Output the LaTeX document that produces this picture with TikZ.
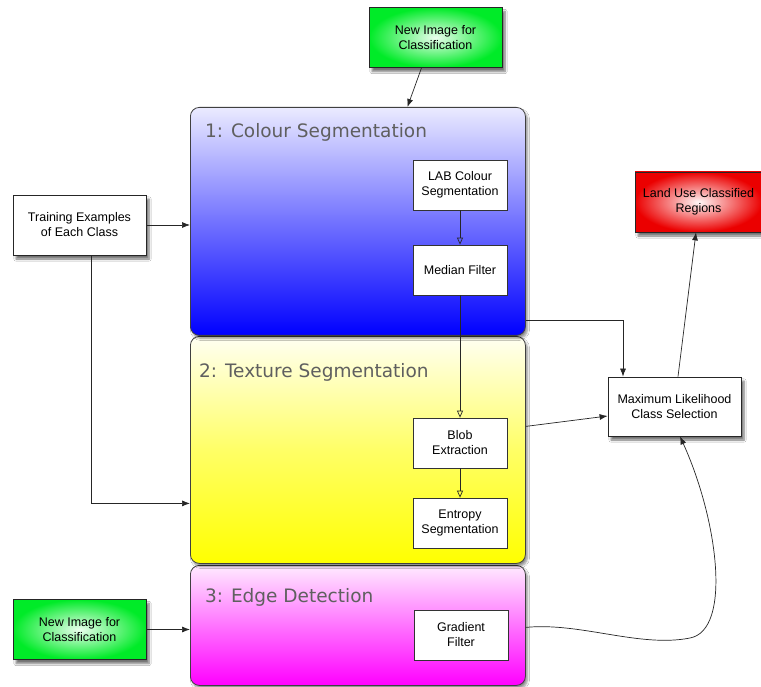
\documentclass[tikz,border=0pt]{standalone}
\usepackage{fontspec}
\setmainfont{Liberation Sans}
\newfontfamily\titlefont{DejaVu Sans}
\usetikzlibrary{arrows.meta,shadows,shadows.blur,calc}
\definecolor{titlegray}{RGB}{95,95,95}
\definecolor{gboxc}{RGB}{0,235,40}
\definecolor{rboxc}{RGB}{235,0,0}
\tikzset{
  panel/.style={draw=black!75, line width=0.8pt, rounded corners=9pt, anchor=north west,
     minimum width=335pt, inner sep=0pt, blur shadow={shadow xshift=2pt, shadow yshift=-3pt, shadow blur steps=6, shadow opacity=45}},
  ptitle/.style={anchor=west, text=titlegray, font=\titlefont\fontsize{18.5}{22}\selectfont, inner sep=0pt},
  inbox/.style={draw=black!80, fill=white, line width=0.7pt, minimum width=94pt, minimum height=50pt,
     align=center, font=\fontsize{12.5}{15}\selectfont, inner sep=1pt},
  outbox/.style={draw=black!85, line width=0.8pt, minimum width=133pt, minimum height=60pt,
     align=center, font=\fontsize{12.5}{15}\selectfont, inner sep=1pt,
     blur shadow={shadow xshift=3pt, shadow yshift=-4pt, shadow blur steps=6, shadow opacity=55}},
  greenbox/.style={outbox, shading=radial, inner color=gboxc!8, outer color=gboxc},
  redbox/.style={outbox, shading=radial, inner color=rboxc!3, outer color=rboxc},
  arr/.style={-{Latex[length=8pt,width=6pt]}, line width=0.7pt, black!85},
  oarr/.style={-{Triangle[open,length=7pt,width=6pt]}, line width=0.7pt, black!85},
}
\begin{document}
\begin{tikzpicture}[x=1pt,y=-1pt]
\useasboundingbox[fill=white] (0,0) rectangle (761,687);
% panels
\node[panel, minimum height=120pt, top color=magenta!8, bottom color=magenta, middle color=magenta!55] (p3) at (190,565) {};
\node[panel, minimum height=227pt, top color=yellow!5, bottom color=yellow, middle color=yellow!60] (p2) at (190,336) {};
\node[panel, minimum height=228pt, top color=blue!8, bottom color=blue, middle color=blue!55] (p1) at (190,107) {};
\node[ptitle] (t1) at (205,132) {1: Colour Segmentation};
\node[ptitle] (t2) at (199,372) {2: Texture Segmentation};
\node[ptitle] (t3) at (205,597) {3: Edge Detection};
% inner boxes
\node[inbox] (lab) at (460,185) {LAB Colour\\Segmentation};
\node[inbox] (med) at (460,270) {Median Filter};
\node[inbox] (blob) at (460,443) {Blob\\Extraction};
\node[inbox] (ent) at (460,523) {Entropy\\Segmentation};
\node[inbox] (grad) at (461,635) {Gradient\\Filter};
% outer boxes
\node[greenbox] (ni1) at (435.5,37.5) {New Image for\\Classification};
\node[greenbox] (ni2) at (79.5,629.5) {New Image for\\Classification};
\node[outbox, fill=white] (tr) at (79.5,225) {Training Examples\\of Each Class};
\node[redbox, minimum width=127pt] (lu) at (698.5,202) {Land Use Classified\\Regions};
\node[outbox, fill=white, minimum height=59pt] (mx) at (674.5,406.5) {Maximum Likelihood\\Class Selection};
% connectors
\draw[arr] ([xshift=-14pt]ni1.south) -- ([xshift=49.5pt]p1.north);
\draw[arr] (tr.east) -- (tr.east -| p1.west);
\draw[arr] ([xshift=11.5pt]tr.south) |- ([yshift=-53.5pt]p2.west);
\draw[arr] (ni2.east) -- (ni2.east -| p3.west);
\draw[oarr] (lab) -- (med);
\draw[oarr] (med) -- (blob);
\draw[oarr] (blob) -- (ent);
\draw[arr] ([yshift=15pt]p1.south east) -| ([xshift=-51.5pt]mx.north);
\draw[arr] ([yshift=23.5pt]p2.east) -- ([yshift=-9.5pt]mx.west);
\draw[arr] ([xshift=3.5pt]mx.north) -- ([xshift=-2.5pt]lu.south);
\draw[arr] ([yshift=-2pt]p3.east) .. controls (580,622) and (640,648) .. (690,638)
   .. controls (732,630) and (718,520) .. ([xshift=5.5pt]mx.south);
\end{tikzpicture}
\end{document}
